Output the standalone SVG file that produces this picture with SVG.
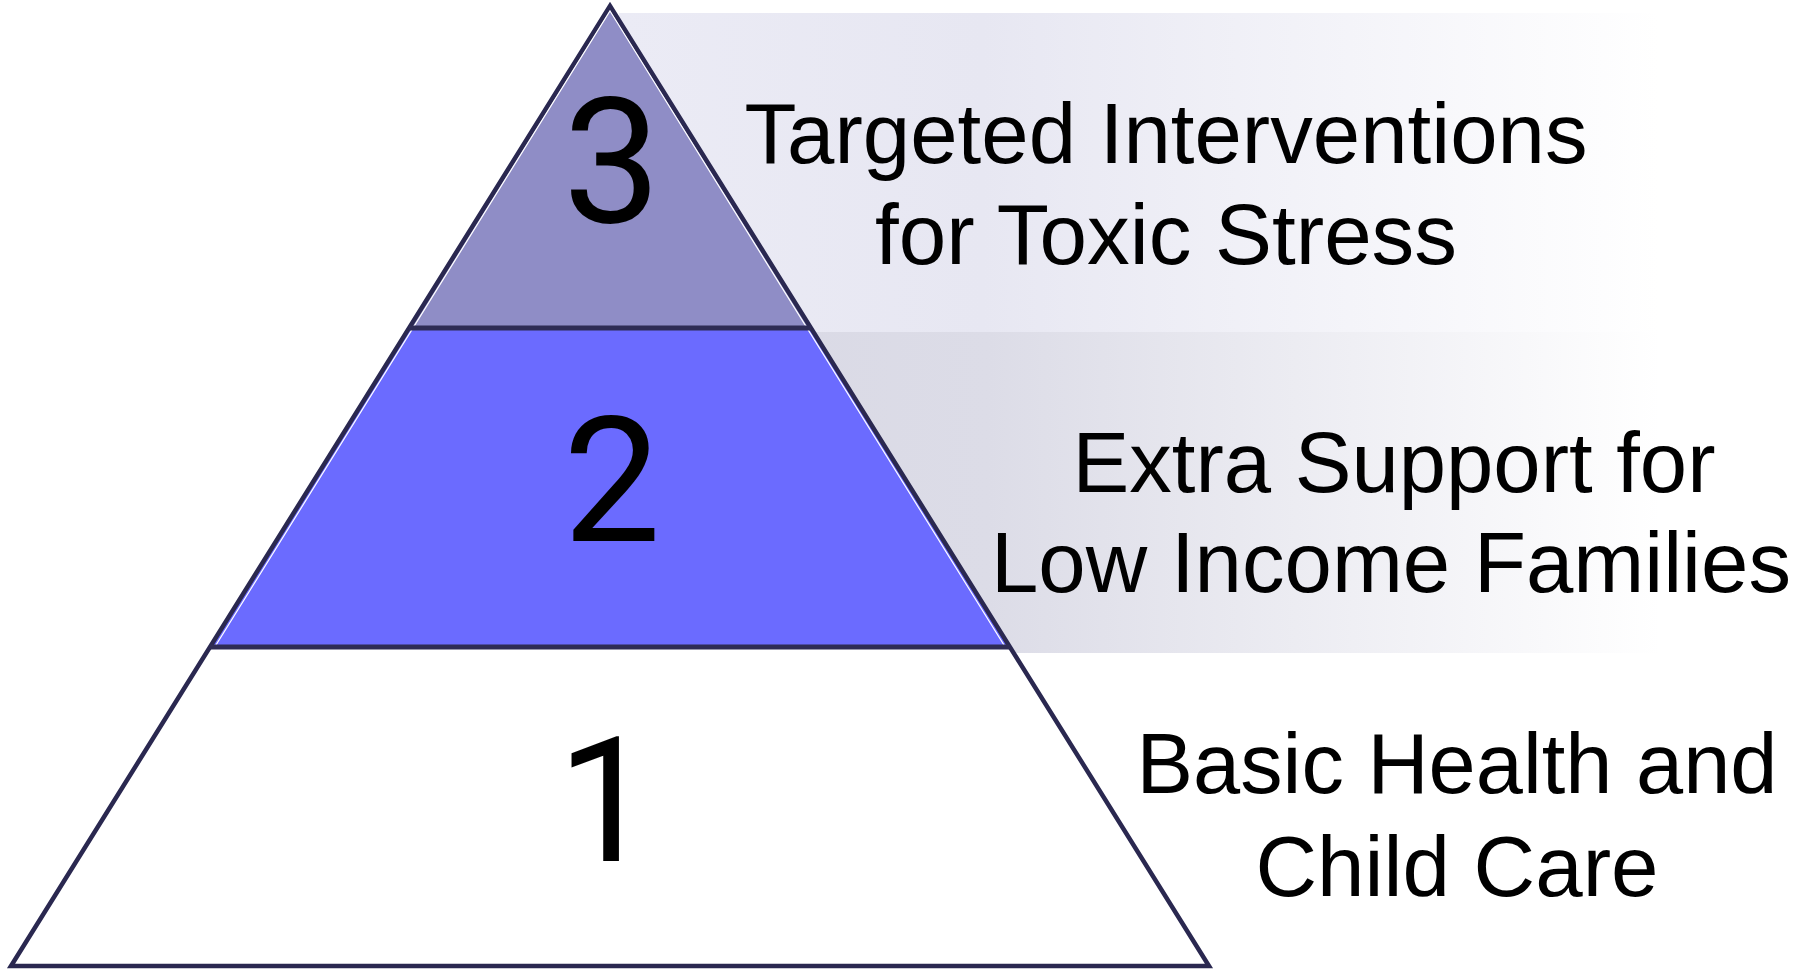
<svg xmlns="http://www.w3.org/2000/svg" width="1800" height="970" viewBox="0 0 1800 970">
<defs>
<linearGradient id="g1" x1="0" y1="0" x2="1" y2="0">
<stop offset="0" stop-color="#ebebf5"/>
<stop offset="0.35" stop-color="#e7e7f2"/>
<stop offset="1" stop-color="#ffffff"/>
</linearGradient>
<linearGradient id="g2" x1="0" y1="0" x2="1" y2="0">
<stop offset="0" stop-color="#d9d9e5"/>
<stop offset="0.3" stop-color="#dcdce7"/>
<stop offset="1" stop-color="#ffffff"/>
</linearGradient>
<style>
text{font-family:"Liberation Sans",Arial,sans-serif;fill:#000;text-anchor:middle}
.lbl{font-size:85px}
.num{font-size:174px;font-family:Roboto,"Liberation Sans",Arial,sans-serif}
.edge{fill:none;stroke:#2a2850;stroke-width:4.5;stroke-linejoin:miter}
.hl{fill:none;stroke:#ffffff;stroke-width:1.2}
.div{stroke:#2e2c55;stroke-width:5}
</style>
</defs>
<g id="bands">
<rect x="619" y="13" width="1040" height="319" fill="url(#g1)"/>
<rect x="700" y="332" width="960" height="321" fill="url(#g2)"/>
</g>
<g id="tier3">
<polygon points="610,6 809,328 411,328" fill="#8f8dc6"/>
<text class="num" x="612" y="222">3</text>
<text class="lbl" x="1166" y="163" textLength="843" lengthAdjust="spacingAndGlyphs">Targeted Interventions</text>
<text class="lbl" x="1166" y="264" textLength="582" lengthAdjust="spacingAndGlyphs">for Toxic Stress</text>
</g>
<g id="tier2">
<polygon points="411,328 809,328 1009,647 211,647" fill="#6b6bff"/>
<text class="num" x="612" y="541">2</text>
<text class="lbl" x="1394" y="492" textLength="643" lengthAdjust="spacingAndGlyphs">Extra Support for</text>
<text class="lbl" x="1391" y="592" textLength="800" lengthAdjust="spacingAndGlyphs">Low Income Families</text>
</g>
<g id="tier1">
<polygon points="211,647 1009,647 1209,967 11,967" fill="#ffffff"/>
<text class="num" x="606" y="861">1</text>
<text class="lbl" x="1457" y="793" textLength="641" lengthAdjust="spacingAndGlyphs">Basic Health and</text>
<text class="lbl" x="1457" y="896" textLength="403" lengthAdjust="spacingAndGlyphs">Child Care</text>
</g>
<g id="connectors">
<polygon class="edge" points="610,6 1209,966 11,966"/>
<polygon class="hl" points="610,11 1201,962 19,962"/>
<line class="div" x1="409" y1="328" x2="811" y2="328"/>
<line class="div" x1="210" y1="647" x2="1010" y2="647"/>
</g>
</svg>
